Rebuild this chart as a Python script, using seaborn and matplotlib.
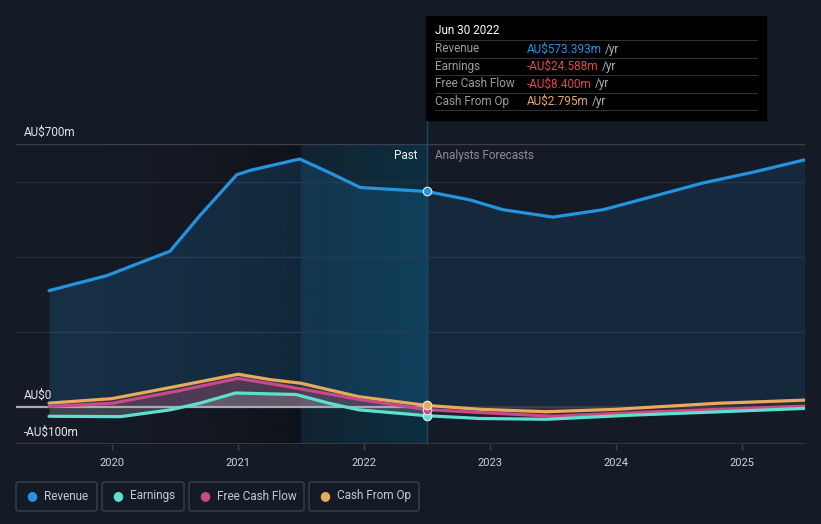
import matplotlib
matplotlib.use("Agg")
import matplotlib.pyplot as plt
from matplotlib.patches import Rectangle, FancyBboxPatch
import numpy as np
import pandas as pd
import seaborn as sns

# values in AU$m
rev_t = [2019.5, 2019.96, 2020.25, 2020.46, 2020.7, 2020.99, 2021.1, 2021.23, 2021.49,
         2021.73, 2021.97, 2022.5, 2022.84, 2023.1, 2023.5, 2023.9, 2024.29, 2024.69,
         2025.09, 2025.5]
rev_v = [309, 349, 387, 414, 510, 618, 630, 640, 660, 623, 584, 573.4, 551, 525, 505,
         525, 560, 596, 625, 658]

earn_t = [2019.5, 2020.0, 2020.07, 2020.46, 2020.7, 2020.98, 2021.46, 2021.73, 2021.96,
          2022.5, 2022.92, 2023.45, 2024.13, 2024.83, 2025.5]
earn_v = [-26, -27, -27, -9, 9, 36, 32, 8, -9, -24.6, -32, -34, -23, -14, -5]

fcf_t = [2019.5, 2020.0, 2020.5, 2021.0, 2021.33, 2021.96, 2022.5, 2022.92, 2023.5,
         2024.3, 2025.5]
fcf_v = [0, 8.5, 40, 75, 57, 19, -8.4, -16, -26, -14, 1]

cfo_t = [2019.5, 2020.0, 2020.5, 2021.0, 2021.25, 2021.5, 2021.96, 2022.5, 2022.92,
         2023.45, 2024.0, 2024.8, 2025.5]
cfo_v = [9, 21, 53, 86, 72, 62, 26, 2.8, -7.5, -14, -7.5, 8.5, 17]

series_names = ["Revenue", "Earnings", "Free Cash Flow", "Cash From Op"]
series_colors = ["#2394df", "#5ce1d0", "#c9498a", "#e8ab5c"]
year_ticks = [2020, 2021, 2022, 2023, 2024, 2025]
now_t = 2022.5

BG = "#151b26"
GRID = "#252c38"
EDGE = "#3b404b"

df = pd.concat([
    pd.DataFrame({"t": rev_t, "v": rev_v, "series": "Revenue"}),
    pd.DataFrame({"t": earn_t, "v": earn_v, "series": "Earnings"}),
    pd.DataFrame({"t": fcf_t, "v": fcf_v, "series": "Free Cash Flow"}),
    pd.DataFrame({"t": cfo_t, "v": cfo_v, "series": "Cash From Op"}),
], ignore_index=True)
palette = dict(zip(series_names, series_colors))

sns.set_theme(style="dark")
plt.rcParams["font.family"] = ["Roboto", "DejaVu Sans"]

W, H = 821, 524
fig = plt.figure(figsize=(W / 100, H / 100), dpi=100, facecolor=BG)
ax = fig.add_axes([16 / W, 80 / H, (805 - 16) / W, 300 / H])
ax.set_facecolor(BG)
for s in ax.spines.values():
    s.set_visible(False)
xmin, xmax = 2019.238, 2025.5
ax.set_xlim(xmin, xmax)
ax.set_ylim(-100, 700)

# darkening before the highlighted year, then the highlighted past year
grad = np.linspace(0, 1, 256).reshape(1, -1)
dark = np.zeros((1, 256, 4))
dark[..., :3] = np.array([12, 15, 21]) / 255
dark[..., 3] = grad ** 1.5 * 0.75
ax.imshow(dark, extent=[2019.9, 2021.5, -100, 700], aspect="auto", zorder=0.1)
band = np.zeros((1, 256, 4))
band[..., :3] = np.array([10, 52, 72]) / 255
band[..., 3] = 0.3 + 0.5 * grad
ax.imshow(band, extent=[2021.5, now_t, -100, 700], aspect="auto", zorder=0.2)

for y in (200, 400, 600):
    ax.axhline(y, color=GRID, lw=1, zorder=0.5)
ax.axhline(700, color=EDGE, lw=1, zorder=0.5)
ax.axhline(-100, color=EDGE, lw=1.2, zorder=0.5)

# area fills
def split(t, v, past):
    t = np.asarray(t, float)
    v = np.asarray(v, float)
    m = t <= now_t if past else t >= now_t
    return t[m], v[m]

for name, t, v, a_past, a_fut, c in [
    ("Revenue", rev_t, rev_v, 0.17, 0.12, "#2394df"),
    ("Cash From Op", cfo_t, cfo_v, 0.10, 0.06, "#e8ab5c"),
    ("Free Cash Flow", fcf_t, fcf_v, 0.22, 0.10, "#c9498a"),
    ("Earnings", earn_t, earn_v, 0.30, 0.06, "#9aa0a6"),
]:
    tp, vp = split(t, v, True)
    ax.fill_between(tp, vp, 0, color=c, alpha=a_past, lw=0, zorder=1)
    tf, vf = split(t, v, False)
    ax.fill_between(tf, vf, 0, color=c, alpha=a_fut, lw=0, zorder=1)

# zero line: bright in the past, dim in the forecast
ax.plot([xmin, now_t], [0, 0], color="#a9abb0", lw=1.6, zorder=1.5)
ax.plot([now_t, xmax], [0, 0], color=EDGE, lw=1.2, zorder=1.5)

sns.lineplot(data=df, x="t", y="v", hue="series", palette=palette,
             hue_order=series_names[::-1], linewidth=2.3, legend=False,
             sort=False, estimator=None, ax=ax, zorder=3)

# now marker and vertical line
ax.plot([now_t, now_t], [-100, 764], color="#1d4a5d", lw=1, clip_on=False, zorder=2)
for name, t, v in [("Revenue", rev_t, rev_v), ("Earnings", earn_t, earn_v),
                   ("Free Cash Flow", fcf_t, fcf_v), ("Cash From Op", cfo_t, cfo_v)]:
    yv = v[t.index(now_t)]
    ax.scatter([now_t], [yv], s=38, color=palette[name], edgecolor="#e8e8e8",
               linewidth=0.8, zorder=4)

ax.set_xticks(year_ticks)
ax.set_xticklabels([str(y) for y in year_ticks])
ax.set_yticks([])
ax.tick_params(axis="x", colors=EDGE, length=4, width=1, pad=6, labelsize=8,
               labelcolor="#d0d2d6", bottom=True)
ax.set_xlabel("")
ax.set_ylabel("")
ax.grid(False)

# y labels
fig.text(24 / W, 1 - 132 / H, "AU$700m", color="#e6e7ea", fontsize=8.5, va="center")
fig.text(24 / W, 1 - 395 / H, "AU$0", color="#e6e7ea", fontsize=8.5, va="center")
fig.text(24 / W, 1 - 432 / H, "-AU$100m", color="#e6e7ea", fontsize=8.5, va="center")

fig.text(417 / W, 1 - 156 / H, "Past", color="#f0f0f0", fontsize=8.5, ha="right",
         va="center")
fig.text(435 / W, 1 - 156 / H, "Analysts Forecasts", color="#8a8d94", fontsize=8.5,
         ha="left", va="center")

# tooltip
fig.patches.append(Rectangle((426 / W, 1 - 120 / H), 340 / W, 104 / H,
                             transform=fig.transFigure, color="#000000", zorder=5))
fig.text(435 / W, 1 - 31 / H, "Jun 30 2022", color="#ffffff", fontsize=8.5, va="center",
         zorder=6)
rows = [("Revenue", "AU$573.393m", "#2394df"),
        ("Earnings", "-AU$24.588m", "#e64646"),
        ("Free Cash Flow", "-AU$8.400m", "#e64646"),
        ("Cash From Op", "AU$2.795m", "#e8ab5c")]
for i, (lab, val, c) in enumerate(rows):
    yy = 49 + i * 17.5
    fig.lines.append(plt.Line2D([435 / W, 757 / W], [1 - (yy - 9) / H] * 2,
                                transform=fig.transFigure, color="#2e3034", lw=0.8,
                                zorder=6))
    fig.text(435 / W, 1 - yy / H, lab, color="#9a9ca0", fontsize=8.5, va="center",
             zorder=6)
    t = fig.text(527 / W, 1 - yy / H, val, color=c, fontsize=8.5, va="center", zorder=6)
    fig.canvas.draw()
    bb = t.get_window_extent()
    fig.text(bb.x1 / W + 3 / W, 1 - yy / H, "/yr", color="#b0b2b6", fontsize=8.5,
             va="center", zorder=6)
fig.lines.append(plt.Line2D([435 / W, 757 / W], [1 - 110 / H] * 2,
                            transform=fig.transFigure, color="#2e3034", lw=0.8, zorder=6))

# legend boxes
boxes = [(16, 97), (102, 184), (189, 304), (309, 419)]
for (x0, x1), name, c in zip(boxes, series_names, series_colors):
    fig.patches.append(FancyBboxPatch((x0 / W, 1 - 511 / H), (x1 - x0) / W, 29 / H,
                                      boxstyle="round,pad=0,rounding_size=0.004",
                                      transform=fig.transFigure, facecolor=BG,
                                      edgecolor="#3d424c", lw=1))
    fig.text((x0 + 16) / W, 1 - 496 / H, "\u25cf", color=c, fontsize=9, ha="center",
             va="center", family="DejaVu Sans")
    fig.text((x0 + 28) / W, 1 - 496 / H, name, color="#c8cace", fontsize=8.5, va="center")

fig.savefig("out.png", dpi=100, facecolor=BG)
